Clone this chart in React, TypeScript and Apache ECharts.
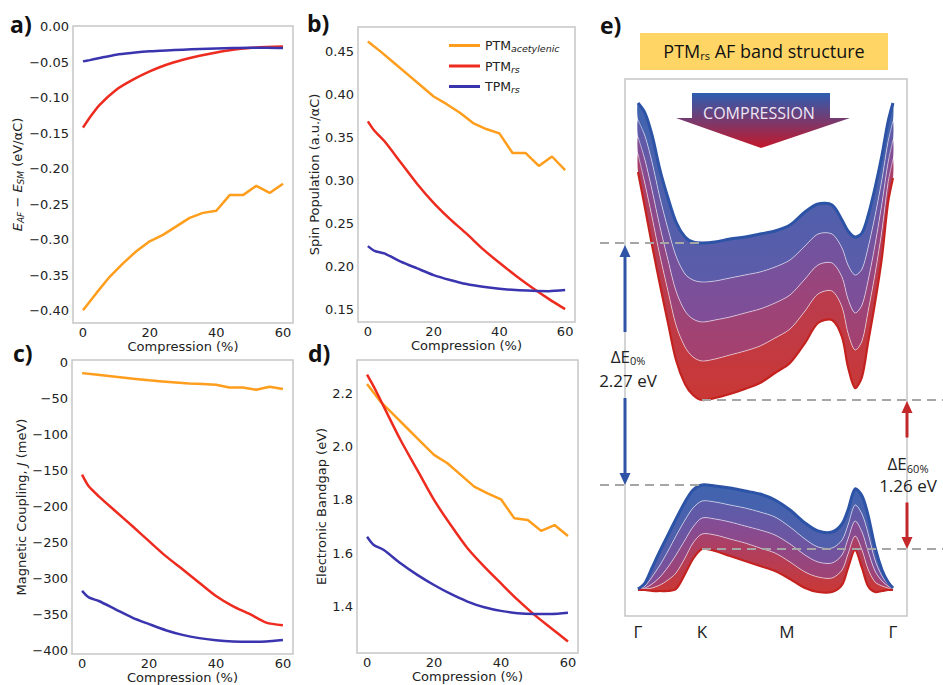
import React, { useEffect, useRef } from 'react';
import * as echarts from 'echarts';

// ---------------- data: panels a-d ----------------
const compressionStep4 = [0, 4, 8, 12, 16, 20, 24, 28, 32, 36, 40, 44, 48, 52, 56, 60];
const compressionFine = [0, 2, 5, 10, 15, 20, 25, 30, 35, 40, 45, 50, 55, 60];
const xTickValues = [0, 20, 40, 60];
const seriesNames = ['PTM_acetylenic', 'PTM_rs', 'TPM_rs'];

// a) E_AF - E_SM (eV/aC)
const energyAcetylenic = [-0.399, -0.375, -0.352, -0.333, -0.316, -0.302, -0.293, -0.281, -0.269, -0.262, -0.259, -0.237, -0.237, -0.224, -0.234, -0.221];
const energyPTMrs = [-0.142, -0.128, -0.110, -0.0887, -0.0746, -0.063, -0.0535, -0.0465, -0.0408, -0.0362, -0.0324, -0.030, -0.0286, -0.0277];
const energyTPMrs = [-0.0488, -0.047, -0.044, -0.0394, -0.0368, -0.0347, -0.0334, -0.0324, -0.0314, -0.0305, -0.030, -0.0296, -0.0296, -0.030];
// b) spin population
const spinAcetylenic = [0.462, 0.450, 0.437, 0.424, 0.411, 0.398, 0.389, 0.379, 0.367, 0.360, 0.355, 0.332, 0.332, 0.317, 0.328, 0.312];
const spinPTMrs = [0.369, 0.358, 0.346, 0.321, 0.296, 0.274, 0.255, 0.238, 0.220, 0.204, 0.189, 0.175, 0.162, 0.150];
const spinTPMrs = [0.2235, 0.218, 0.215, 0.2055, 0.1975, 0.1897, 0.184, 0.1792, 0.176, 0.1737, 0.1722, 0.1714, 0.171, 0.1722];
// c) magnetic coupling J (meV)
const couplingAcetylenic = [-15, -17, -19, -21, -23, -25, -26.5, -28, -29.5, -30, -31, -35, -35, -38, -34, -37];
const couplingPTMrs = [-155.8, -172, -185.8, -206.5, -227, -248, -268.8, -287, -305.6, -324, -338, -349, -361, -364.6];
const couplingTPMrs = [-317, -326, -331, -342.5, -354, -363, -371.5, -378, -382.5, -385.3, -387, -387.5, -387, -385];
// d) electronic bandgap (eV)
const gapAcetylenic = [2.235, 2.169, 2.119, 2.069, 2.019, 1.969, 1.9375, 1.894, 1.85, 1.825, 1.8025, 1.731, 1.725, 1.684, 1.706, 1.665];
const gapPTMrs = [2.27, 2.225, 2.15, 2.025, 1.9125, 1.80, 1.706, 1.619, 1.55, 1.487, 1.425, 1.369, 1.319, 1.269];
const gapTPMrs = [1.662, 1.631, 1.6125, 1.5625, 1.519, 1.481, 1.4475, 1.419, 1.3975, 1.384, 1.375, 1.3725, 1.3725, 1.377];

const yTicksA = [0, -0.05, -0.1, -0.15, -0.2, -0.25, -0.3, -0.35, -0.4];
const yTicksB = [0.15, 0.2, 0.25, 0.3, 0.35, 0.4, 0.45];
const yTicksC = [0, -50, -100, -150, -200, -250, -300, -350, -400];
const yTicksD = [1.4, 1.6, 1.8, 2.0, 2.2];

// ---------------- data: panel e (band structure, eV) ----------------
const kPath = [0, 0.07, 0.14, 0.22, 0.30, 0.38, 0.47, 0.55, 0.64, 0.77, 0.92, 1.07, 1.22, 1.37, 1.52, 1.67, 1.80, 1.94, 2.04, 2.10, 2.17, 2.24, 2.30, 2.37, 2.44, 2.50, 2.55];
const kLabelValues = [0, 0.64, 1.49, 2.55];
const kLabels = ['Γ', 'K', 'M', 'Γ'];
// conduction band at 0, 15, 30, 45, 60 % compression
const cb0 = [3.82, 3.72, 3.50, 3.15, 2.87, 2.63, 2.48, 2.43, 2.42, 2.43, 2.46, 2.48, 2.51, 2.54, 2.60, 2.73, 2.81, 2.80, 2.65, 2.54, 2.48, 2.52, 2.69, 2.97, 3.30, 3.63, 3.82];
const cb15 = [3.65, 3.49, 3.23, 2.87, 2.56, 2.29, 2.11, 2.05, 2.03, 2.04, 2.07, 2.10, 2.13, 2.18, 2.25, 2.39, 2.51, 2.51, 2.37, 2.20, 2.10, 2.16, 2.37, 2.69, 3.06, 3.43, 3.64];
const cb30 = [3.48, 3.25, 2.95, 2.58, 2.25, 1.94, 1.74, 1.66, 1.63, 1.65, 1.68, 1.72, 1.76, 1.82, 1.90, 2.06, 2.20, 2.22, 2.08, 1.86, 1.72, 1.80, 2.04, 2.40, 2.82, 3.22, 3.45];
const cb45 = [3.31, 3.01, 2.68, 2.29, 1.94, 1.60, 1.38, 1.28, 1.24, 1.26, 1.30, 1.34, 1.39, 1.47, 1.56, 1.74, 1.91, 1.94, 1.78, 1.52, 1.35, 1.44, 1.73, 2.11, 2.55, 3.02, 3.26];
const cb60 = [3.13, 2.77, 2.40, 2.00, 1.62, 1.25, 1.01, 0.90, 0.85, 0.87, 0.91, 0.96, 1.02, 1.12, 1.22, 1.42, 1.62, 1.65, 1.48, 1.18, 0.97, 1.08, 1.42, 1.82, 2.28, 2.82, 3.07];
// valence band at 0, 15, 30, 45, 60 % compression
const vb0 = [-1.04, -0.98, -0.83, -0.66, -0.50, -0.34, -0.17, -0.05, 0.00, -0.01, -0.03, -0.06, -0.09, -0.15, -0.25, -0.38, -0.46, -0.47, -0.39, -0.25, -0.04, -0.11, -0.30, -0.62, -0.85, -0.97, -1.03];
const vb15 = [-1.05, -1.01, -0.92, -0.80, -0.66, -0.51, -0.35, -0.23, -0.16, -0.17, -0.20, -0.23, -0.27, -0.32, -0.42, -0.54, -0.62, -0.63, -0.55, -0.40, -0.20, -0.29, -0.48, -0.75, -0.91, -0.99, -1.04];
const vb30 = [-1.05, -1.03, -0.99, -0.92, -0.82, -0.70, -0.55, -0.42, -0.33, -0.34, -0.37, -0.41, -0.45, -0.50, -0.59, -0.70, -0.77, -0.78, -0.70, -0.54, -0.36, -0.47, -0.66, -0.86, -0.96, -1.01, -1.04];
const vb45 = [-1.05, -1.04, -1.03, -1.00, -0.95, -0.88, -0.73, -0.58, -0.49, -0.50, -0.54, -0.58, -0.63, -0.68, -0.77, -0.87, -0.92, -0.93, -0.85, -0.69, -0.51, -0.65, -0.84, -0.97, -1.01, -1.03, -1.05];
const vb60 = [-1.05, -1.05, -1.06, -1.06, -1.06, -1.04, -0.89, -0.74, -0.64, -0.66, -0.71, -0.76, -0.81, -0.86, -0.94, -1.03, -1.07, -1.07, -1.00, -0.83, -0.65, -0.83, -1.01, -1.07, -1.06, -1.05, -1.05];
const gapLabel0 = '2.27 eV';
const gapLabel60 = '1.26 eV';

// ---------------- styles ----------------
const ORANGE = '#ff9d1c';
const RED = '#ee2b1f';
const BLUE = '#3a35ae';
// colours of the 60, 45, 30, 15, 0 % curves
const BAND_COLORS = ['#c4221f', '#9c2c5e', '#733a8c', '#4b4aa0', '#2c53a6'];
const TXT = '#222222';
const DJ = 'DejaVu Sans';
const OS = 'Open Sans';
const FRAME = '#c6c6c6';

const gridsPx = [
  { left: 73, top: 26, width: 220, height: 297 },
  { left: 358, top: 27, width: 217, height: 295 },
  { left: 72, top: 360, width: 221, height: 295 },
  { left: 357, top: 360, width: 221, height: 293 },
  { left: 625, top: 79, width: 282, height: 537 },
];

const minus = (s: string) => s.replace('-', '\u2212');

const subRich = {
  n: { fontSize: 13, fontFamily: DJ, color: TXT },
  i: { fontSize: 13, fontFamily: DJ, color: TXT, fontStyle: 'italic' },
  s: { fontSize: 9, fontFamily: DJ, color: TXT, fontStyle: 'italic', padding: [7, 0, 0, 0] },
};

const yCfg = [
  { min: -0.417, max: 0.001, ticks: yTicksA, fmt: (v: number) => minus(v.toFixed(2)), name: '{i|E}{s|AF}{n| \u2212 }{i|E}{s|SM}{n| (eV/αC)}', gap: 48 },
  { min: 0.135, max: 0.479, ticks: yTicksB, fmt: (v: number) => v.toFixed(2), name: '{n|Spin Population (a.u./αC)}', gap: 36 },
  { min: -404.5, max: 3.2, ticks: yTicksC, fmt: (v: number) => minus(String(v)), name: '{n|Magnetic Coupling, }{i|J}{n| (meV)}', gap: 38 },
  { min: 1.226, max: 2.325, ticks: yTicksD, fmt: (v: number) => v.toFixed(1), name: '{n|Electronic Bandgap (eV)}', gap: 28 },
];

const panelData = [
  [energyAcetylenic, energyPTMrs, energyTPMrs],
  [spinAcetylenic, spinPTMrs, spinTPMrs],
  [couplingAcetylenic, couplingPTMrs, couplingTPMrs],
  [gapAcetylenic, gapPTMrs, gapTPMrs],
];

const grad = (c0: string, c1: string) =>
  new echarts.graphic.LinearGradient(0, 0, 0, 1, [
    { offset: 0, color: c0 },
    { offset: 1, color: c1 },
  ]);

// one custom series per band; each data item is one strip between two neighbouring compression curves
function bandSeries(name: string, curves: number[][]) {
  const strips = curves.slice(0, -1).map((_, i) => [i, 0]);
  const last = curves.length - 1;
  return {
    type: 'custom',
    name,
    xAxisIndex: 4,
    yAxisIndex: 4,
    silent: true,
    data: strips,
    encode: { x: 0, y: 1 },
    renderItem: (params: any, api: any) => {
      const s = params.dataIndex;
      const lo = curves[s];
      const hi = curves[s + 1];
      const top = kPath.map((k, i) => api.coord([k, hi[i]]));
      const bot = kPath.map((k, i) => api.coord([k, lo[i]]));
      const poly = top.concat(bot.slice().reverse());
      const isTop = s + 1 === last;
      const children: any[] = [
        {
          type: 'polygon',
          z2: 1,
          shape: { points: poly, smooth: 0.3 },
          style: { fill: grad(BAND_COLORS[s + 1], BAND_COLORS[s]), opacity: 0.9 },
        },
        {
          type: 'polyline',
          z2: isTop ? 12 : 10,
          shape: { points: top, smooth: 0.3 },
          style: isTop
            ? { stroke: BAND_COLORS[s + 1], lineWidth: 3, fill: 'none' }
            : { stroke: '#ffffff', opacity: 0.55, lineWidth: 1, fill: 'none' },
        },
      ];
      if (s === 0) {
        children.push({
          type: 'polyline',
          z2: 12,
          shape: { points: bot, smooth: 0.3 },
          style: { stroke: BAND_COLORS[0], lineWidth: 2.2, fill: 'none' },
        });
      }
      return { type: 'group', children };
    },
  };
}

function buildOption(): any {
  const grid = gridsPx.map((g) => ({ ...g, show: true, borderColor: FRAME, borderWidth: 1.5, backgroundColor: 'transparent' }));
  const xAxis: any[] = [0, 1, 2, 3].map((i) => ({
    gridIndex: i,
    type: 'value',
    min: -3,
    max: 63,
    axisLine: { show: false },
    axisTick: { show: false },
    splitLine: { show: false },
    axisLabel: { customValues: xTickValues, margin: 3, fontSize: 13, fontFamily: DJ, color: TXT },
    name: 'Compression (%)',
    nameLocation: 'middle',
    nameGap: 17,
    nameTextStyle: { fontSize: 13, fontFamily: DJ, color: TXT },
  }));
  xAxis.push({
    gridIndex: 4,
    type: 'value',
    min: -0.13,
    max: 2.69,
    axisLine: { show: false },
    axisTick: { show: false },
    splitLine: { show: false },
    axisLabel: {
      customValues: kLabelValues,
      margin: 7,
      fontSize: 17,
      fontFamily: OS,
      color: TXT,
      formatter: (v: number) => kLabels[kLabelValues.indexOf(v)] ?? '',
    },
  });
  const yAxis: any[] = yCfg.map((c, i) => ({
    gridIndex: i,
    type: 'value',
    min: c.min,
    max: c.max,
    axisLine: { show: false },
    axisTick: { show: false },
    splitLine: { show: false },
    axisLabel: { customValues: c.ticks, margin: 4, fontSize: 13, fontFamily: DJ, color: TXT, formatter: c.fmt },
    name: c.name,
    nameLocation: 'middle',
    nameRotate: 90,
    nameGap: c.gap,
    nameTextStyle: { fontSize: 13, fontFamily: DJ, color: TXT, rich: subRich },
  }));
  yAxis.push({
    gridIndex: 4,
    type: 'value',
    min: -1.31,
    max: 4.06,
    show: false,
  });

  const colors = [ORANGE, RED, BLUE];
  const series: any[] = [];
  panelData.forEach((arrs, p) => {
    arrs.forEach((vals, s) => {
      const xs = s === 0 ? compressionStep4 : compressionFine;
      series.push({
        type: 'line',
        name: seriesNames[s],
        xAxisIndex: p,
        yAxisIndex: p,
        data: vals.map((v, i) => [xs[i], v]),
        color: colors[s],
        symbol: 'none',
        smooth: s === 0 ? false : 0.25,
        lineStyle: { width: 2.5, color: colors[s] },
        z: s === 0 ? 3 : 4,
      });
    });
  });
  series.push(bandSeries('conduction', [cb60, cb45, cb30, cb15, cb0]));
  series.push(bandSeries('valence', [vb60, vb45, vb30, vb15, vb0]));

  const legendRich = {
    m: { fontSize: 12.5, fontFamily: DJ, color: TXT },
    s: { fontSize: 9.5, fontFamily: DJ, color: TXT, fontStyle: 'italic', padding: [6, 0, 0, 0] },
  };

  return {
    animation: false,
    backgroundColor: '#ffffff',
    grid,
    xAxis,
    yAxis,
    series,
    legend: {
      data: seriesNames,
      left: 444,
      top: 34,
      orient: 'vertical',
      icon: 'rect',
      itemWidth: 31,
      itemHeight: 3,
      itemGap: 6,
      selectedMode: false,
      textStyle: { rich: legendRich },
      formatter: (name: string) => {
        const [a, b] = name.split('_');
        return `{m|${a}}{s|${b}}`;
      },
    },
  };
}

export default function App() {
  const ref = useRef<HTMLDivElement>(null);
  useEffect(() => {
    const chart = echarts.init(ref.current!, null, { renderer: 'svg' });
    chart.setOption(buildOption());

    const P = (k: number, e: number) => chart.convertToPixel({ gridIndex: 4 } as any, [k, e]) as number[];
    const yCb0 = P(0, Math.min(...cb0))[1];
    const yVb0 = P(0, Math.max(...vb0))[1];
    const yCb60 = P(0, Math.min(...cb60))[1];
    const yVb60 = P(0, Math.max(...vb60))[1];
    const xK = P(kLabelValues[1], 0)[0];
    const xL = gridsPx[4].left;
    const xR = gridsPx[4].left + gridsPx[4].width;

    const dash = (x1: number, x2: number, y: number) => ({
      type: 'line',
      z: 100,
      shape: { x1, y1: y, x2, y2: y },
      style: { stroke: '#a6a6a6', lineWidth: 2.2, lineDash: [9, 6] },
    });
    const arrow = (x: number, y1: number, y2: number, g1: number, g2: number, color: string) => [
      { type: 'polygon', z: 101, shape: { points: [[x, y1], [x - 5.5, y1 + 12], [x + 5.5, y1 + 12]] }, style: { fill: color } },
      { type: 'line', z: 101, shape: { x1: x, y1: y1 + 10, x2: x, y2: g1 }, style: { stroke: color, lineWidth: 3 } },
      { type: 'line', z: 101, shape: { x1: x, y1: g2, x2: x, y2: y2 - 10 }, style: { stroke: color, lineWidth: 3 } },
      { type: 'polygon', z: 101, shape: { points: [[x, y2], [x - 5.5, y2 - 12], [x + 5.5, y2 - 12]] }, style: { fill: color } },
    ];
    const deltaText = (x: number, y: number, sub: string) => ({
      type: 'text',
      z: 102,
      x,
      y,
      style: {
        text: `{m|ΔE}{s|${sub}}`,
        align: 'center',
        verticalAlign: 'middle',
        rich: {
          m: { fontSize: 17, fontFamily: OS, fill: TXT },
          s: { fontSize: 11, fontFamily: OS, fill: TXT, padding: [9, 0, 0, 0] },
        },
      },
    });
    const plainText = (x: number, y: number, text: string) => ({
      type: 'text',
      z: 102,
      x,
      y,
      style: { text, align: 'center', verticalAlign: 'middle', fontSize: 17, fontFamily: OS, fill: TXT },
    });
    const mid0 = (yCb0 + yVb0) / 2;
    const mid60 = (yCb60 + yVb60) / 2;

    const panelLabels = [
      ['a)', 10, 24],
      ['b)', 307, 23],
      ['c)', 13, 353],
      ['d)', 308, 353],
      ['e)', 600, 25],
    ].map(([t, x, y]) => ({
      type: 'text',
      x,
      y,
      style: { text: t, fontSize: 23, fontWeight: 'bold', fontFamily: OS, fill: '#111', verticalAlign: 'middle' },
    }));

    const graphic: any[] = [
      ...panelLabels,
      { type: 'rect', shape: { x: 640, y: 33, width: 248, height: 37 }, style: { fill: '#ffd666' } },
      {
        type: 'text',
        x: 764,
        y: 51,
        style: {
          text: '{m|PTM}{s|rs}{m| AF band structure}',
          align: 'center',
          verticalAlign: 'middle',
          rich: {
            m: { fontSize: 18, fontFamily: OS, fill: '#111' },
            s: { fontSize: 11, fontFamily: OS, fill: '#111', padding: [9, 0, 0, 0] },
          },
        },
      },
      {
        type: 'polygon',
        z: 50,
        shape: { points: [[692, 93], [830, 93], [830, 118], [850, 118], [761, 148], [676, 118], [692, 118]] },
        style: { fill: grad('#2d5db2', '#c3172a') },
      },
      {
        type: 'text',
        z: 51,
        x: 759,
        y: 113,
        style: { text: 'COMPRESSION', align: 'center', verticalAlign: 'middle', fontSize: 16, fontFamily: OS, fill: '#efe7f6' },
      },
      dash(600, xK, yCb0),
      dash(600, xK, yVb0),
      dash(xK, 943, yCb60),
      dash(xK, 943, yVb60),
      ...arrow(xL, yCb0 + 2, yVb0, mid0 - 32, mid0 + 34, '#2f54a6'),
      ...arrow(xR, yCb60 + 1, yVb60, mid60 - 37, mid60 + 28, '#c3282b'),
      deltaText(628, mid0 - 8, '0%'),
      plainText(628, mid0 + 16, gapLabel0),
      deltaText(908, mid60 - 11, '60%'),
      plainText(908, mid60 + 11, gapLabel60),
    ];
    chart.setOption({ graphic });

    return () => chart.dispose();
  }, []);
  return <div ref={ref} style={{ position: 'absolute', left: 0, top: 0, width: 943, height: 685, background: '#fff' }} />;
}
